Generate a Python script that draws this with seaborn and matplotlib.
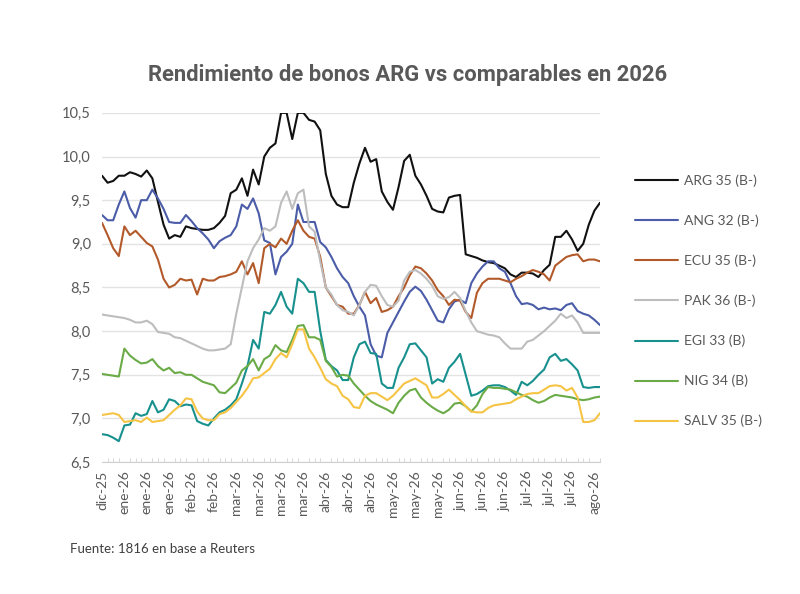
import pandas as pd
import seaborn as sns
import matplotlib.pyplot as plt
import numpy as np
from matplotlib.ticker import FuncFormatter, MultipleLocator


# rendimientos (%), un punto cada ~2 ruedas
arg = [9.78, 9.70, 9.72, 9.78, 9.78, 9.82, 9.80, 9.77, 9.84, 9.75,
       9.48, 9.22, 9.06, 9.10, 9.08, 9.20, 9.18, 9.17, 9.16, 9.16,
       9.18, 9.24, 9.32, 9.58, 9.62, 9.75, 9.55, 9.85, 9.68, 10.00,
       10.10, 10.15, 10.50, 10.50, 10.20, 10.50, 10.50, 10.42, 10.40, 10.30,
       9.80, 9.55, 9.45, 9.42, 9.42, 9.70, 9.92, 10.10, 9.94, 9.97,
       9.60, 9.48, 9.39, 9.65, 9.95, 10.02, 9.78, 9.68, 9.55, 9.40,
       9.37, 9.36, 9.53, 9.55, 9.56, 8.88, 8.86, 8.84, 8.81, 8.79,
       8.78, 8.75, 8.72, 8.65, 8.62, 8.67, 8.67, 8.66, 8.62, 8.70,
       8.76, 9.08, 9.08, 9.15, 9.05, 8.92, 9.00, 9.22, 9.38, 9.47]
ang = [9.33, 9.27, 9.27, 9.45, 9.60, 9.41, 9.30, 9.50, 9.50, 9.62,
       9.52, 9.40, 9.25, 9.24, 9.24, 9.33, 9.26, 9.18, 9.12, 9.05,
       8.95, 9.03, 9.07, 9.10, 9.20, 9.45, 9.40, 9.52, 9.35, 9.04,
       9.01, 8.65, 8.85, 8.91, 9.00, 9.45, 9.25, 9.25, 9.25, 9.02,
       8.96, 8.85, 8.72, 8.62, 8.55, 8.40, 8.28, 8.18, 7.85, 7.72,
       7.70, 7.98, 8.10, 8.22, 8.34, 8.45, 8.51, 8.46, 8.36, 8.24,
       8.12, 8.10, 8.25, 8.34, 8.36, 8.32, 8.55, 8.66, 8.74, 8.80,
       8.80, 8.72, 8.68, 8.55, 8.40, 8.31, 8.32, 8.30, 8.25, 8.27,
       8.25, 8.26, 8.24, 8.30, 8.32, 8.23, 8.20, 8.18, 8.13, 8.07]
ecu = [9.24, 9.10, 8.95, 8.86, 9.20, 9.10, 9.15, 9.08, 9.01, 8.97,
       8.82, 8.60, 8.50, 8.53, 8.60, 8.58, 8.59, 8.42, 8.60, 8.58,
       8.58, 8.62, 8.63, 8.65, 8.68, 8.80, 8.65, 8.78, 8.55, 8.95,
       9.00, 8.96, 9.06, 9.00, 9.15, 9.27, 9.15, 9.08, 9.06, 8.85,
       8.50, 8.40, 8.30, 8.28, 8.20, 8.20, 8.30, 8.45, 8.32, 8.38,
       8.22, 8.24, 8.28, 8.40, 8.50, 8.64, 8.74, 8.72, 8.66, 8.58,
       8.47, 8.40, 8.30, 8.36, 8.35, 8.22, 8.15, 8.44, 8.55, 8.60,
       8.60, 8.60, 8.58, 8.56, 8.60, 8.63, 8.67, 8.70, 8.68, 8.65,
       8.58, 8.75, 8.80, 8.85, 8.87, 8.88, 8.80, 8.82, 8.82, 8.80]
pak = [8.19, 8.18, 8.17, 8.16, 8.15, 8.13, 8.10, 8.10, 8.12, 8.08,
       7.99, 7.98, 7.97, 7.93, 7.92, 7.89, 7.86, 7.83, 7.80, 7.78,
       7.78, 7.79, 7.80, 7.85, 8.20, 8.50, 8.80, 8.95, 9.05, 9.18,
       9.15, 9.20, 9.47, 9.60, 9.40, 9.58, 9.62, 9.20, 9.14, 8.80,
       8.50, 8.42, 8.30, 8.24, 8.22, 8.18, 8.30, 8.45, 8.53, 8.52,
       8.40, 8.30, 8.28, 8.35, 8.58, 8.68, 8.70, 8.66, 8.60, 8.52,
       8.40, 8.37, 8.39, 8.45, 8.38, 8.23, 8.10, 8.00, 7.98, 7.96,
       7.95, 7.93, 7.86, 7.80, 7.80, 7.80, 7.88, 7.90, 7.95, 8.00,
       8.06, 8.12, 8.20, 8.15, 8.18, 8.10, 7.98, 7.98, 7.98, 7.98]
egi = [6.82, 6.81, 6.78, 6.74, 6.92, 6.93, 7.06, 7.03, 7.05, 7.20,
       7.07, 7.10, 7.22, 7.20, 7.14, 7.16, 7.15, 6.97, 6.94, 6.92,
       7.00, 7.07, 7.10, 7.15, 7.22, 7.40, 7.60, 7.90, 7.80, 8.22,
       8.20, 8.30, 8.45, 8.28, 8.20, 8.60, 8.55, 8.45, 8.45, 8.00,
       7.67, 7.60, 7.55, 7.44, 7.44, 7.70, 7.85, 7.88, 7.75, 7.74,
       7.40, 7.35, 7.35, 7.58, 7.70, 7.85, 7.86, 7.78, 7.70, 7.40,
       7.45, 7.42, 7.58, 7.65, 7.74, 7.50, 7.26, 7.28, 7.32, 7.37,
       7.38, 7.38, 7.36, 7.32, 7.27, 7.42, 7.38, 7.43, 7.50, 7.56,
       7.70, 7.74, 7.66, 7.68, 7.62, 7.55, 7.36, 7.35, 7.36, 7.36]
nig = [7.51, 7.50, 7.49, 7.48, 7.80, 7.72, 7.67, 7.63, 7.64, 7.68,
       7.60, 7.55, 7.58, 7.52, 7.53, 7.50, 7.50, 7.46, 7.42, 7.40,
       7.38, 7.30, 7.29, 7.35, 7.41, 7.55, 7.60, 7.68, 7.55, 7.68,
       7.72, 7.84, 7.78, 7.76, 7.90, 8.06, 8.07, 7.93, 7.93, 7.90,
       7.66, 7.59, 7.48, 7.50, 7.49, 7.40, 7.33, 7.26, 7.20, 7.16,
       7.13, 7.10, 7.06, 7.18, 7.26, 7.32, 7.34, 7.24, 7.18, 7.13,
       7.09, 7.06, 7.10, 7.17, 7.18, 7.14, 7.08, 7.15, 7.28, 7.36,
       7.35, 7.35, 7.34, 7.33, 7.30, 7.27, 7.25, 7.21, 7.18, 7.20,
       7.24, 7.27, 7.26, 7.25, 7.24, 7.22, 7.21, 7.22, 7.24, 7.25]
salv = [7.04, 7.05, 7.06, 7.04, 6.96, 6.97, 6.98, 6.96, 7.01, 6.96,
        6.97, 6.98, 7.04, 7.10, 7.15, 7.23, 7.22, 7.08, 7.00, 6.98,
        6.98, 7.05, 7.07, 7.12, 7.19, 7.26, 7.35, 7.46, 7.47, 7.52,
        7.57, 7.68, 7.75, 7.70, 7.85, 8.02, 8.02, 7.80, 7.70, 7.58,
        7.45, 7.40, 7.37, 7.26, 7.22, 7.13, 7.12, 7.26, 7.29, 7.29,
        7.25, 7.21, 7.26, 7.33, 7.40, 7.43, 7.46, 7.42, 7.38, 7.24,
        7.24, 7.28, 7.33, 7.27, 7.21, 7.14, 7.08, 7.07, 7.07, 7.12,
        7.15, 7.16, 7.17, 7.18, 7.22, 7.25, 7.28, 7.29, 7.29, 7.33,
        7.37, 7.38, 7.37, 7.32, 7.35, 7.24, 6.96, 6.96, 6.98, 7.06]

bonos = ['ARG 35 (B-)', 'ANG 32 (B-)', 'ECU 35 (B-)', 'PAK 36 (B-)',
         'EGI 33 (B)', 'NIG 34 (B)', 'SALV 35 (B-)']
colores = ['#111111', '#4b5ca8', '#b35a2b', '#bdbdbd', '#18918e', '#6aab47', '#f6c445']

fechas = ['dic-25', 'ene-26', 'ene-26', 'ene-26', 'feb-26', 'feb-26',
          'mar-26', 'mar-26', 'mar-26', 'mar-26', 'abr-26', 'abr-26', 'abr-26',
          'may-26', 'may-26', 'may-26', 'jun-26', 'jun-26', 'jun-26',
          'jul-26', 'jul-26', 'jul-26', 'ago-26']

df = pd.DataFrame({'dia': np.arange(len(arg))})
for nombre, serie in zip(bonos, [arg, ang, ecu, pak, egi, nig, salv]):
    df[nombre] = serie
df_long = pd.melt(df, id_vars='dia', var_name='bono', value_name='rend')

sns.set_style('white')
plt.rcParams['font.family'] = ['Lato', 'DejaVu Sans']

fig = plt.figure(figsize=(8, 5.94), dpi=100)
ax = fig.add_axes([0.1275, 0.222, 0.6225, 0.588])

sns.lineplot(data=df_long, x='dia', y='rend', hue='bono', hue_order=bonos,
             palette=dict(zip(bonos, colores)), linewidth=1.5, ax=ax)

ax.set_xlim(0, len(arg) - 1)
ax.set_ylim(6.5, 10.5)
ax.yaxis.set_major_locator(MultipleLocator(0.5))
ax.yaxis.set_major_formatter(FuncFormatter(lambda v, p: f'{v:.1f}'.replace('.', ',')))
ax.grid(axis='y', color='#e3e3e3', linewidth=1)
ax.set_axisbelow(True)

pos = np.arange(0, 4 * len(fechas), 4)
ax.set_xticks(pos)
ax.set_xticklabels(fechas, rotation=90)
ax.xaxis.set_minor_locator(MultipleLocator(1))
ax.tick_params(axis='x', which='major', length=0, pad=6, labelsize=10, labelcolor='#595959')
ax.tick_params(axis='x', which='minor', length=3, direction='in', color='#d0d0d0', bottom=True)
ax.tick_params(axis='y', length=0, pad=8, labelsize=10.5, labelcolor='#595959')

for s in ['top', 'right', 'left']:
    ax.spines[s].set_visible(False)
ax.spines['bottom'].set_color('#d0d0d0')
ax.set_xlabel('')
ax.set_ylabel('')

handles, labels = ax.get_legend_handles_labels()
ax.legend(handles, labels, loc='upper left', bbox_to_anchor=(0.778, 0.727),
          bbox_transform=fig.transFigure, frameon=False, handlelength=3.1,
          labelspacing=1.98, fontsize=10, labelcolor='#595959', handletextpad=0.4)

fig.text(0.509, 0.873, 'Rendimiento de bonos ARG vs comparables en 2026', ha='center',
         va='center', fontsize=15.8, fontweight='semibold', color='#595959',
         family=['Roboto', 'DejaVu Sans'])
fig.text(0.087, 0.076, 'Fuente: 1816 en base a Reuters', ha='left', va='center',
         fontsize=9.5, color='#404040')

fig.savefig('out.png', dpi=100)
